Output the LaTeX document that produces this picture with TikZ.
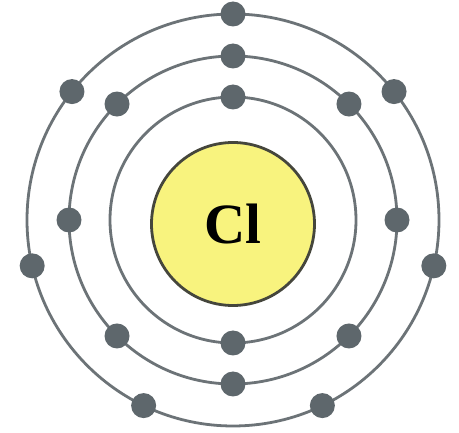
\documentclass[tikz,border=0pt]{standalone}
\usepackage{fontspec}
\setmainfont{Liberation Serif}
\usetikzlibrary{calc}
\definecolor{ring}{HTML}{6C7377}
\definecolor{elec}{HTML}{5E676C}
\definecolor{nucfill}{HTML}{F8F37E}
\definecolor{nucline}{HTML}{45463C}
\tikzset{
  shell/.style={draw=ring, line width=2.8pt},
  electron/.style={circle, fill=elec, minimum size=25pt, inner sep=0pt},
  nucleus/.style={circle, fill=nucfill, draw=nucline, line width=2.8pt, minimum size=163pt, inner sep=0pt, font=\fontsize{57}{57}\selectfont\bfseries}
}
\begin{document}
\begin{tikzpicture}[x=1pt,y=-1pt]
\useasboundingbox (0,0) rectangle (459,433);
\fill[white] (0,0) rectangle (459,433);
\coordinate (c) at (233,220);
\draw[shell] (c) circle (123);
\draw[shell] (c) circle (164);
\draw[shell] (c) circle (206);
\node[nucleus] (nuc) at (233,224) {Cl};
% inner shell
\node[electron] (i1) at ($(c)+(0,-123)$) {};
\node[electron] (i2) at ($(c)+(0,123)$) {};
% middle shell
\foreach \a [count=\k] in {0,45,...,315} {
  \node[electron] (m\k) at ($(c)+({cos(\a)*164},{sin(\a)*164})$) {};
}
% outer shell
\foreach \k in {0,...,6} {
  \pgfmathsetmacro{\ang}{-90+\k*360/7}
  \node[electron] (o\k) at ($(c)+({cos(\ang)*206},{sin(\ang)*206})$) {};
}
\end{tikzpicture}
\end{document}
